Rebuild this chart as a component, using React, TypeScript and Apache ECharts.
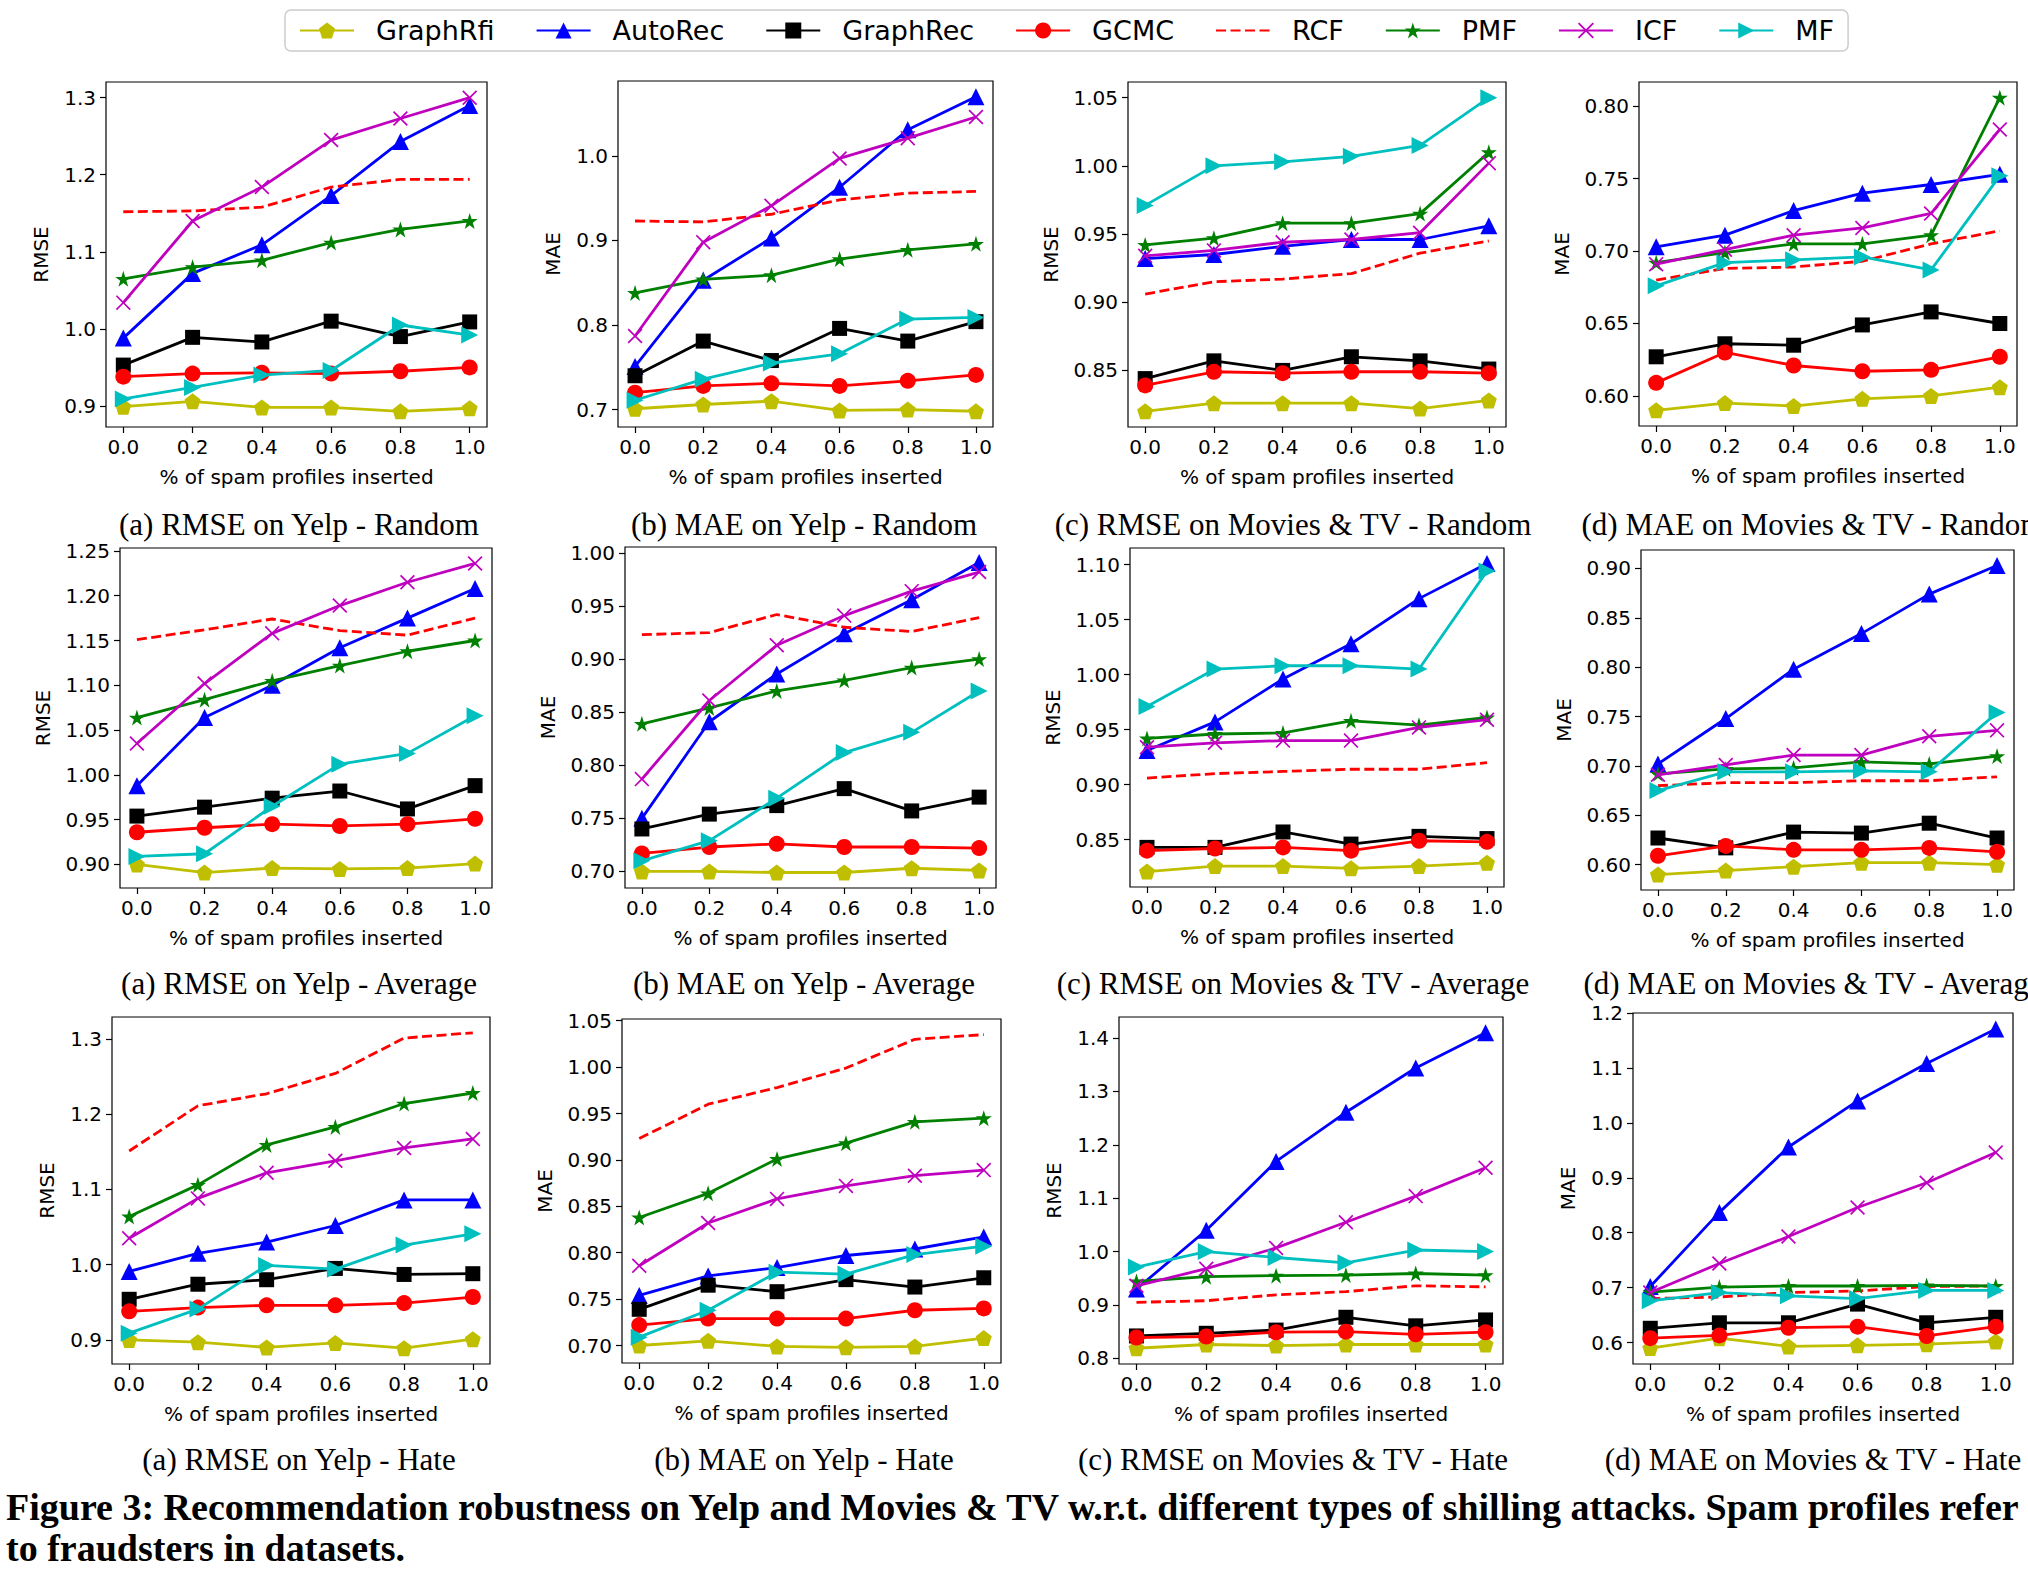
import React, { useEffect, useRef } from "react";
import * as echarts from "echarts";

// x positions (% of spam profiles inserted)
const xValues = [0, 0.2, 0.4, 0.6, 0.8, 1.0];
const methods = ["GraphRfi", "AutoRec", "GraphRec", "GCMC", "RCF", "PMF", "ICF", "MF"];

// Each panel: rows in the order of `methods`
const yelpRmseRandom = [
  [0.899, 0.906, 0.898, 0.898, 0.893, 0.897],
  [0.988, 1.072, 1.109, 1.173, 1.243, 1.29],
  [0.953, 0.989, 0.983, 1.01, 0.99, 1.009],
  [0.938, 0.942, 0.943, 0.942, 0.945, 0.95],
  [1.152, 1.153, 1.158, 1.184, 1.194, 1.194],
  [1.065, 1.08, 1.089, 1.112, 1.129, 1.14],
  [1.034, 1.14, 1.184, 1.245, 1.273, 1.3],
  [0.909, 0.924, 0.94, 0.946, 1.005, 0.992],
];
const yelpMaeRandom = [
  [0.701, 0.706, 0.71, 0.699, 0.7, 0.698],
  [0.751, 0.853, 0.903, 0.963, 1.031, 1.07],
  [0.74, 0.781, 0.758, 0.796, 0.781, 0.804],
  [0.72, 0.728, 0.731, 0.728, 0.734, 0.741],
  [0.923, 0.922, 0.931, 0.948, 0.956, 0.958],
  [0.838, 0.854, 0.859, 0.878, 0.889, 0.896],
  [0.787, 0.898, 0.941, 0.997, 1.021, 1.046],
  [0.711, 0.736, 0.755, 0.766, 0.807, 0.809],
];
const moviesRmseRandom = [
  [0.82, 0.826, 0.826, 0.826, 0.822, 0.828],
  [0.932, 0.935, 0.941, 0.946, 0.946, 0.956],
  [0.844, 0.857, 0.85, 0.86, 0.857, 0.851],
  [0.839, 0.849, 0.848, 0.849, 0.849, 0.848],
  [0.906, 0.915, 0.917, 0.921, 0.936, 0.945],
  [0.942, 0.947, 0.958, 0.958, 0.965, 1.01],
  [0.934, 0.938, 0.944, 0.946, 0.951, 1.002],
  [0.971, 1.0, 1.003, 1.007, 1.015, 1.05],
];
const moviesMaeRandom = [
  [0.59, 0.595, 0.593, 0.598, 0.6, 0.606],
  [0.703, 0.711, 0.728, 0.74, 0.746, 0.753],
  [0.627, 0.636, 0.635, 0.649, 0.658, 0.65],
  [0.609, 0.63, 0.621, 0.617, 0.618, 0.627],
  [0.68, 0.688, 0.689, 0.693, 0.705, 0.714],
  [0.692, 0.699, 0.705, 0.705, 0.711, 0.806],
  [0.691, 0.701, 0.711, 0.716, 0.726, 0.784],
  [0.676, 0.692, 0.694, 0.696, 0.687, 0.752],
];
const yelpRmseAverage = [
  [0.9, 0.891, 0.896, 0.895, 0.896, 0.901],
  [0.988, 1.064, 1.1, 1.142, 1.175, 1.208],
  [0.954, 0.964, 0.974, 0.982, 0.962, 0.988],
  [0.936, 0.941, 0.945, 0.943, 0.945, 0.951],
  [1.151, 1.162, 1.174, 1.161, 1.156, 1.175],
  [1.064, 1.084, 1.105, 1.122, 1.138, 1.15],
  [1.035, 1.102, 1.158, 1.189, 1.215, 1.236],
  [0.909, 0.912, 0.965, 1.012, 1.024, 1.066],
];
const yelpMaeAverage = [
  [0.7, 0.7, 0.699, 0.699, 0.703, 0.701],
  [0.75, 0.841, 0.886, 0.924, 0.956, 0.991],
  [0.74, 0.754, 0.762, 0.778, 0.757, 0.77],
  [0.717, 0.723, 0.726, 0.723, 0.723, 0.722],
  [0.923, 0.925, 0.942, 0.93, 0.926, 0.939],
  [0.839, 0.854, 0.87, 0.88, 0.892, 0.9],
  [0.787, 0.861, 0.913, 0.941, 0.964, 0.982],
  [0.71, 0.729, 0.769, 0.812, 0.831, 0.87],
];
const moviesRmseAverage = [
  [0.821, 0.826, 0.826, 0.824, 0.826, 0.829],
  [0.931, 0.957, 0.996, 1.028, 1.069, 1.101],
  [0.843, 0.843, 0.857, 0.846, 0.853, 0.851],
  [0.84, 0.842, 0.843, 0.84, 0.849, 0.848],
  [0.906, 0.91, 0.912, 0.914, 0.914, 0.92],
  [0.942, 0.946, 0.947, 0.958, 0.954, 0.961],
  [0.934, 0.938, 0.94, 0.94, 0.952, 0.959],
  [0.971, 1.005, 1.008, 1.008, 1.005, 1.094],
];
const moviesMaeAverage = [
  [0.59, 0.594, 0.598, 0.602, 0.602, 0.6],
  [0.702, 0.748, 0.798, 0.834, 0.874, 0.903],
  [0.627, 0.617, 0.633, 0.632, 0.642, 0.627],
  [0.609, 0.619, 0.615, 0.615, 0.617, 0.613],
  [0.68, 0.683, 0.683, 0.685, 0.685, 0.689],
  [0.692, 0.697, 0.698, 0.704, 0.702, 0.71],
  [0.691, 0.701, 0.711, 0.711, 0.73, 0.736],
  [0.675, 0.694, 0.694, 0.695, 0.694, 0.754],
];
const yelpRmseHate = [
  [0.9, 0.897, 0.89, 0.896, 0.889, 0.901],
  [0.991, 1.015, 1.03, 1.052, 1.086, 1.086],
  [0.954, 0.974, 0.98, 0.995, 0.987, 0.988],
  [0.938, 0.943, 0.946, 0.946, 0.949, 0.957],
  [1.151, 1.211, 1.227, 1.254, 1.301, 1.308],
  [1.064, 1.106, 1.159, 1.183, 1.214, 1.228],
  [1.035, 1.088, 1.122, 1.138, 1.155, 1.167],
  [0.909, 0.941, 0.999, 0.994, 1.026, 1.041],
];
const yelpMaeHate = [
  [0.7, 0.705, 0.699, 0.698, 0.699, 0.708],
  [0.754, 0.775, 0.784, 0.797, 0.804, 0.817],
  [0.739, 0.765, 0.758, 0.771, 0.763, 0.773],
  [0.722, 0.729, 0.729, 0.729, 0.738, 0.74],
  [0.923, 0.96, 0.978, 0.999, 1.03, 1.035],
  [0.838, 0.864, 0.901, 0.918, 0.941, 0.945],
  [0.786, 0.832, 0.858, 0.872, 0.883, 0.889],
  [0.709, 0.738, 0.779, 0.777, 0.798, 0.807],
];
const moviesRmseHate = [
  [0.819, 0.826, 0.824, 0.826, 0.826, 0.826],
  [0.93, 1.04, 1.169, 1.261, 1.344, 1.41],
  [0.842, 0.847, 0.853, 0.877, 0.861, 0.872],
  [0.839, 0.841, 0.849, 0.85, 0.845, 0.849],
  [0.905, 0.908, 0.919, 0.925, 0.936, 0.934],
  [0.944, 0.953, 0.955, 0.956, 0.959, 0.956],
  [0.936, 0.968, 1.007, 1.055, 1.104, 1.157],
  [0.971, 1.0, 0.989, 0.979, 1.003, 1.0],
];
const moviesMaeHate = [
  [0.59, 0.608, 0.593, 0.595, 0.597, 0.602],
  [0.702, 0.837, 0.956, 1.04, 1.108, 1.171],
  [0.626, 0.636, 0.636, 0.67, 0.636, 0.646],
  [0.608, 0.613, 0.627, 0.629, 0.612, 0.629],
  [0.68, 0.683, 0.691, 0.694, 0.702, 0.703],
  [0.692, 0.701, 0.703, 0.703, 0.704, 0.703],
  [0.691, 0.744, 0.793, 0.846, 0.891, 0.946],
  [0.676, 0.691, 0.685, 0.68, 0.695, 0.695],
];

// y tick labels per panel
const ticksYelpRmseRandom = [0.9, 1.0, 1.1, 1.2, 1.3];
const ticksYelpMaeRandom = [0.7, 0.8, 0.9, 1.0];
const ticksMoviesRmseRandom = [0.85, 0.9, 0.95, 1.0, 1.05];
const ticksMoviesMaeRandom = [0.6, 0.65, 0.7, 0.75, 0.8];
const ticksYelpRmseAverage = [0.9, 0.95, 1.0, 1.05, 1.1, 1.15, 1.2, 1.25];
const ticksYelpMaeAverage = [0.7, 0.75, 0.8, 0.85, 0.9, 0.95, 1.0];
const ticksMoviesRmseAverage = [0.85, 0.9, 0.95, 1.0, 1.05, 1.1];
const ticksMoviesMaeAverage = [0.6, 0.65, 0.7, 0.75, 0.8, 0.85, 0.9];
const ticksYelpRmseHate = [0.9, 1.0, 1.1, 1.2, 1.3];
const ticksYelpMaeHate = [0.7, 0.75, 0.8, 0.85, 0.9, 0.95, 1.0, 1.05];
const ticksMoviesRmseHate = [0.8, 0.9, 1.0, 1.1, 1.2, 1.3, 1.4];
const ticksMoviesMaeHate = [0.6, 0.7, 0.8, 0.9, 1.0, 1.1, 1.2];

const captions = [
  "(a) RMSE on Yelp - Random",
  "(b) MAE on Yelp - Random",
  "(c) RMSE on Movies & TV - Random",
  "(d) MAE on Movies & TV - Random",
  "(a) RMSE on Yelp - Average",
  "(b) MAE on Yelp - Average",
  "(c) RMSE on Movies & TV - Average",
  "(d) MAE on Movies & TV - Average",
  "(a) RMSE on Yelp - Hate",
  "(b) MAE on Yelp - Hate",
  "(c) RMSE on Movies & TV - Hate",
  "(d) MAE on Movies & TV - Hate",
];
const figureCaption1 =
  "Figure 3: Recommendation robustness on Yelp and Movies & TV w.r.t. different types of shilling attacks. Spam profiles refer";
const figureCaption2 = "to fraudsters in datasets.";

const panelData = [
  yelpRmseRandom, yelpMaeRandom, moviesRmseRandom, moviesMaeRandom,
  yelpRmseAverage, yelpMaeAverage, moviesRmseAverage, moviesMaeAverage,
  yelpRmseHate, yelpMaeHate, moviesRmseHate, moviesMaeHate,
];
const panelTicks = [
  ticksYelpRmseRandom, ticksYelpMaeRandom, ticksMoviesRmseRandom, ticksMoviesMaeRandom,
  ticksYelpRmseAverage, ticksYelpMaeAverage, ticksMoviesRmseAverage, ticksMoviesMaeAverage,
  ticksYelpRmseHate, ticksYelpMaeHate, ticksMoviesRmseHate, ticksMoviesMaeHate,
];
const panelDecimals = [1, 1, 2, 2, 2, 2, 2, 2, 1, 2, 1, 1];
const panelMetric = ["RMSE", "MAE", "RMSE", "MAE", "RMSE", "MAE", "RMSE", "MAE", "RMSE", "MAE", "RMSE", "MAE"];

// layout (pixels): left, top, width, height
const gridRects = [
  [106, 82, 381, 345], [618, 81, 375, 346], [1128, 82, 378, 345], [1639, 82, 378, 344],
  [120, 548, 372, 340], [625, 547, 371, 341], [1130, 548, 374, 339], [1641, 550, 373, 340],
  [112, 1017, 378, 347], [622, 1019, 379, 344], [1119, 1017, 384, 347], [1633, 1013, 380, 351],
];
const captionX = [299, 804, 1293, 1813];
const captionY = [524, 983, 1459];

const SYM_PENTAGON = "path://M50 0 L97.55 34.55 L79.39 90.45 L20.61 90.45 L2.45 34.55 Z";
const SYM_STAR =
  "path://M50 0 L61.23 34.55 L97.55 34.55 L68.16 55.9 L79.39 90.45 L50 69.1 L20.61 90.45 L31.84 55.9 L2.45 34.55 L38.77 34.55 Z";
const SYM_X =
  "path://M0 8 L8 0 L50 42 L92 0 L100 8 L58 50 L100 92 L92 100 L50 58 L8 100 L0 92 L42 50 Z";
const SYM_TRI_RIGHT = "path://M0 0 L100 50 L0 100 Z";

const methodColors = ["#bfbf00", "#0000ff", "#000000", "#ff0000", "#ff0000", "#008000", "#bf00bf", "#00bfbf"];
const methodSymbols = [SYM_PENTAGON, "triangle", "rect", "circle", "none", SYM_STAR, SYM_X, SYM_TRI_RIGHT];
const methodSizes = [16, 17, 15, 16, 0, 16, 15, 17];

const SANS = "DejaVu Sans";
const SERIF = "Liberation Serif";
const TICK_FONT = 20;

function buildOption() {
  const grids: any[] = [];
  const xAxes: any[] = [];
  const yAxes: any[] = [];
  const series: any[] = [];
  const graphics: any[] = [];

  panelData.forEach((rows, i) => {
    const [l, t, w, h] = gridRects[i];
    grids.push({
      left: l, top: t, width: w, height: h,
      show: true, borderColor: "#000", borderWidth: 1.2, backgroundColor: "transparent",
    });
    let lo = Infinity, hi = -Infinity;
    rows.forEach((r) => r.forEach((v) => { lo = Math.min(lo, v); hi = Math.max(hi, v); }));
    const pad = (hi - lo) * 0.05;
    const dec = panelDecimals[i];
    xAxes.push({
      type: "value", gridIndex: i, min: -0.05, max: 1.05,
      axisLine: { show: false, onZero: false },
      axisTick: { show: true, length: 6, customValues: xValues, lineStyle: { color: "#000", width: 1.2 } },
      axisLabel: {
        customValues: xValues, formatter: (v: number) => v.toFixed(1),
        fontSize: TICK_FONT, fontFamily: SANS, color: "#000", margin: 10,
      },
      splitLine: { show: false },
      name: "% of spam profiles inserted", nameLocation: "middle", nameGap: 40,
      nameTextStyle: { fontSize: TICK_FONT, fontFamily: SANS, color: "#000" },
    });
    yAxes.push({
      type: "value", gridIndex: i, min: lo - pad, max: hi + pad,
      axisLine: { show: false, onZero: false },
      axisTick: { show: true, length: 6, customValues: panelTicks[i], lineStyle: { color: "#000", width: 1.2 } },
      axisLabel: {
        customValues: panelTicks[i], formatter: (v: number) => v.toFixed(dec),
        fontSize: TICK_FONT, fontFamily: SANS, color: "#000", margin: 10,
      },
      splitLine: { show: false },
      name: panelMetric[i], nameLocation: "middle", nameGap: dec === 1 ? 55 : 67,
      nameTextStyle: { fontSize: TICK_FONT, fontFamily: SANS, color: "#000" },
    });
    rows.forEach((vals, j) => {
      const isRcf = methods[j] === "RCF";
      series.push({
        type: "line", name: methods[j], xAxisIndex: i, yAxisIndex: i,
        data: xValues.map((x, k) => [x, vals[k]]),
        symbol: methodSymbols[j], symbolSize: methodSizes[j], showSymbol: !isRcf,
        lineStyle: { color: methodColors[j], width: 2.8, type: isRcf ? [10, 4.5] : "solid" },
        itemStyle: { color: methodColors[j], borderWidth: 0 },
        emphasis: { disabled: true },
        z: 2 + j,
      });
    });
    graphics.push({
      type: "text",
      x: captionX[i % 4], y: captionY[Math.floor(i / 4)],
      style: {
        text: captions[i], fontFamily: SERIF, fontSize: 31, fill: "#000",
        textAlign: "center", textVerticalAlign: "middle",
      },
    });
  });

  graphics.push({
    type: "text", x: 6, y: 1507,
    style: { text: figureCaption1, fontFamily: SERIF, fontWeight: "bold", fontSize: 38, fill: "#000", textVerticalAlign: "middle" },
  });
  graphics.push({
    type: "text", x: 6, y: 1548,
    style: { text: figureCaption2, fontFamily: SERIF, fontWeight: "bold", fontSize: 38, fill: "#000", textVerticalAlign: "middle" },
  });

  const legendData = methods.map((m) =>
    m === "RCF" ? { name: m, itemStyle: { opacity: 0 } } : { name: m }
  );

  return {
    animation: false,
    backgroundColor: "#ffffff",
    legend: {
      data: legendData,
      left: 285, top: 10,
      itemWidth: 54, itemHeight: 20, itemGap: 41,
      padding: [7, 14],
      borderColor: "#cccccc", borderWidth: 1.5, borderRadius: 6,
      backgroundColor: "#ffffff",
      textStyle: { fontFamily: SANS, fontSize: 27, color: "#000", padding: [0, 0, 0, 17] },
      selectedMode: false,
    },
    grid: grids,
    xAxis: xAxes,
    yAxis: yAxes,
    series,
    graphic: graphics,
  };
}

export default function App() {
  const ref = useRef<HTMLDivElement>(null);
  useEffect(() => {
    if (!ref.current) return;
    const chart = echarts.init(ref.current, null, { renderer: "svg" });
    chart.setOption(buildOption() as any);
    return () => chart.dispose();
  }, []);
  return (
    <div
      ref={ref}
      style={{ position: "absolute", left: 0, top: 0, width: 2028, height: 1572, background: "#fff" }}
    />
  );
}
